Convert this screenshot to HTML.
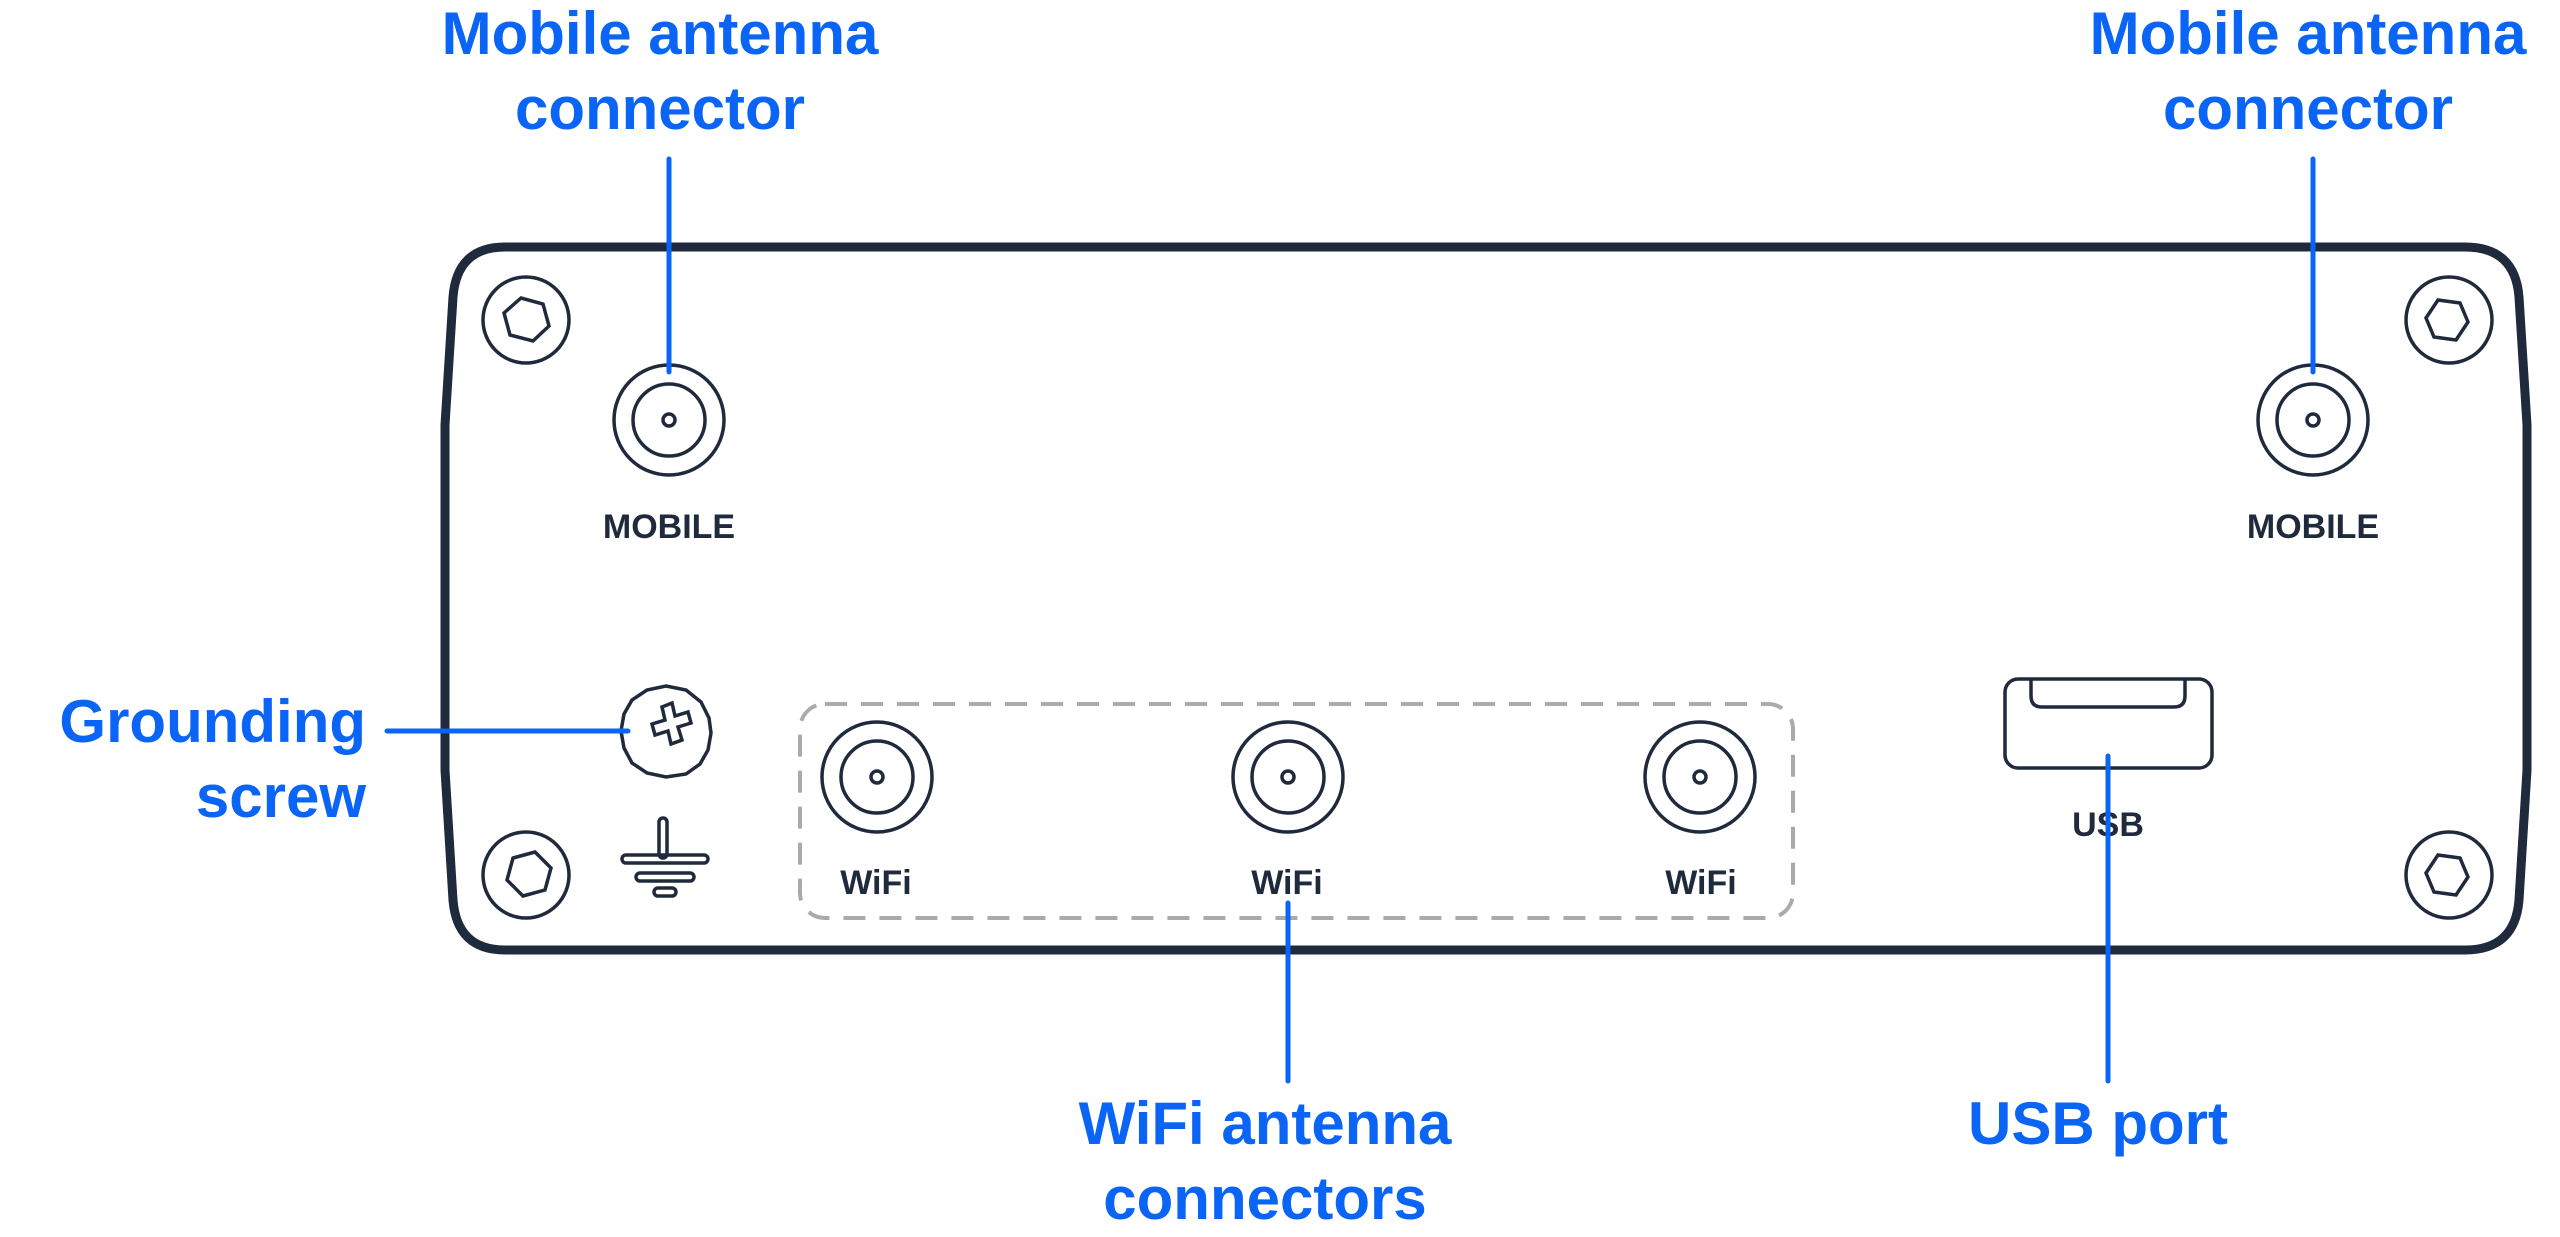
<!DOCTYPE html>
<html><head><meta charset="utf-8"><style>
html,body{margin:0;padding:0;background:#fff;}
svg{display:block;}
.lbl{font-family:"Liberation Sans",sans-serif;font-size:60px;font-weight:bold;fill:#0a64f5;}
.dev{font-family:"Liberation Sans",sans-serif;font-size:34px;font-weight:bold;fill:#1f2a3c;}
</style></head><body>
<svg width="2560" height="1237" viewBox="0 0 2560 1237" xmlns="http://www.w3.org/2000/svg">
<g fill="none" stroke="#1f2a3c">
<path d="M505 247 H2465 Q2515 247 2519 297 L2527 425 V770 L2519 900 Q2515 950 2465 950 H505 Q457 950 453 900 L445 770 V425 L453 297 Q457 247 505 247 Z" stroke-width="9"/>
<g stroke-width="3.5">
<circle cx="526" cy="320" r="43"/><polygon points="521,298 543,304 549,326 533,341 510,335 504,313"/>
<circle cx="526" cy="875" r="43"/><polygon points="513,858 535,852 551,868 545,890 523,896 507,880"/>
<circle cx="2449" cy="320" r="43"/><polygon points="2438,300 2460,303 2468,322 2456,340 2434,337 2426,318"/>
<circle cx="2449" cy="875" r="43"/><polygon points="2438,855 2460,858 2468,877 2456,895 2434,892 2426,873"/>
<circle cx="669" cy="420" r="55"/><circle cx="669" cy="420" r="36"/><circle cx="669" cy="420" r="6"/>
<circle cx="2313" cy="420" r="55"/><circle cx="2313" cy="420" r="36"/><circle cx="2313" cy="420" r="6"/>
<circle cx="877" cy="777" r="55"/><circle cx="877" cy="777" r="36"/><circle cx="877" cy="777" r="6"/>
<circle cx="1288" cy="777" r="55"/><circle cx="1288" cy="777" r="36"/><circle cx="1288" cy="777" r="6"/>
<circle cx="1700" cy="777" r="55"/><circle cx="1700" cy="777" r="36"/><circle cx="1700" cy="777" r="6"/>
<polygon points="666,686 686,690 701,702 709,718 711,733 708,750 700,764 686,774 666,777 647,773 632,763 624,748 621,731 624,714 632,700 647,690"/>
<path d="M662 707 L672 703 L675 716 L688 712 L691 723 L678 727 L682 740 L671 744 L668 731 L655 735 L652 724 L665 720 Z"/>
<rect x="659" y="818" width="8" height="40" rx="4"/>
<rect x="622" y="855" width="86" height="8" rx="4"/>
<rect x="636" y="873" width="58" height="8" rx="4"/>
<rect x="654" y="888" width="22" height="8" rx="4"/>
<rect x="2005" y="679" width="207" height="89" rx="13"/>
<path d="M2031 679 V696 Q2031 707 2042 707 H2174 Q2185 707 2185 696 V679"/>
</g>
<rect x="800" y="704" width="993" height="214" rx="25" stroke="#aaa" stroke-width="4" stroke-dasharray="22 14"/>
</g>
<text class="dev" x="669" y="538" text-anchor="middle">MOBILE</text>
<text class="dev" x="2313" y="538" text-anchor="middle">MOBILE</text>
<text class="dev" x="876" y="894" text-anchor="middle">WiFi</text>
<text class="dev" x="1287" y="894" text-anchor="middle">WiFi</text>
<text class="dev" x="1701" y="894" text-anchor="middle">WiFi</text>
<text class="dev" x="2108" y="836" text-anchor="middle">USB</text>
<g stroke="#0a64f5" stroke-width="5" stroke-linecap="round">
<line x1="669" y1="159" x2="669" y2="372"/>
<line x1="2313" y1="159" x2="2313" y2="372"/>
<line x1="387" y1="731" x2="628" y2="731"/>
<line x1="1288" y1="903" x2="1288" y2="1081"/>
<line x1="2108" y1="756" x2="2108" y2="1081"/>
</g>
<text class="lbl" text-anchor="middle"><tspan x="660" y="54">Mobile antenna</tspan><tspan x="660" y="129">connector</tspan></text>
<text class="lbl" text-anchor="middle"><tspan x="2308" y="54">Mobile antenna</tspan><tspan x="2308" y="129">connector</tspan></text>
<text class="lbl" text-anchor="end"><tspan x="366" y="742">Grounding</tspan><tspan x="366" y="817">screw</tspan></text>
<text class="lbl" text-anchor="middle"><tspan x="1265" y="1144">WiFi antenna</tspan><tspan x="1265" y="1219">connectors</tspan></text>
<text class="lbl" text-anchor="middle"><tspan x="2098" y="1144">USB port</tspan></text>
</svg>
</body></html>
